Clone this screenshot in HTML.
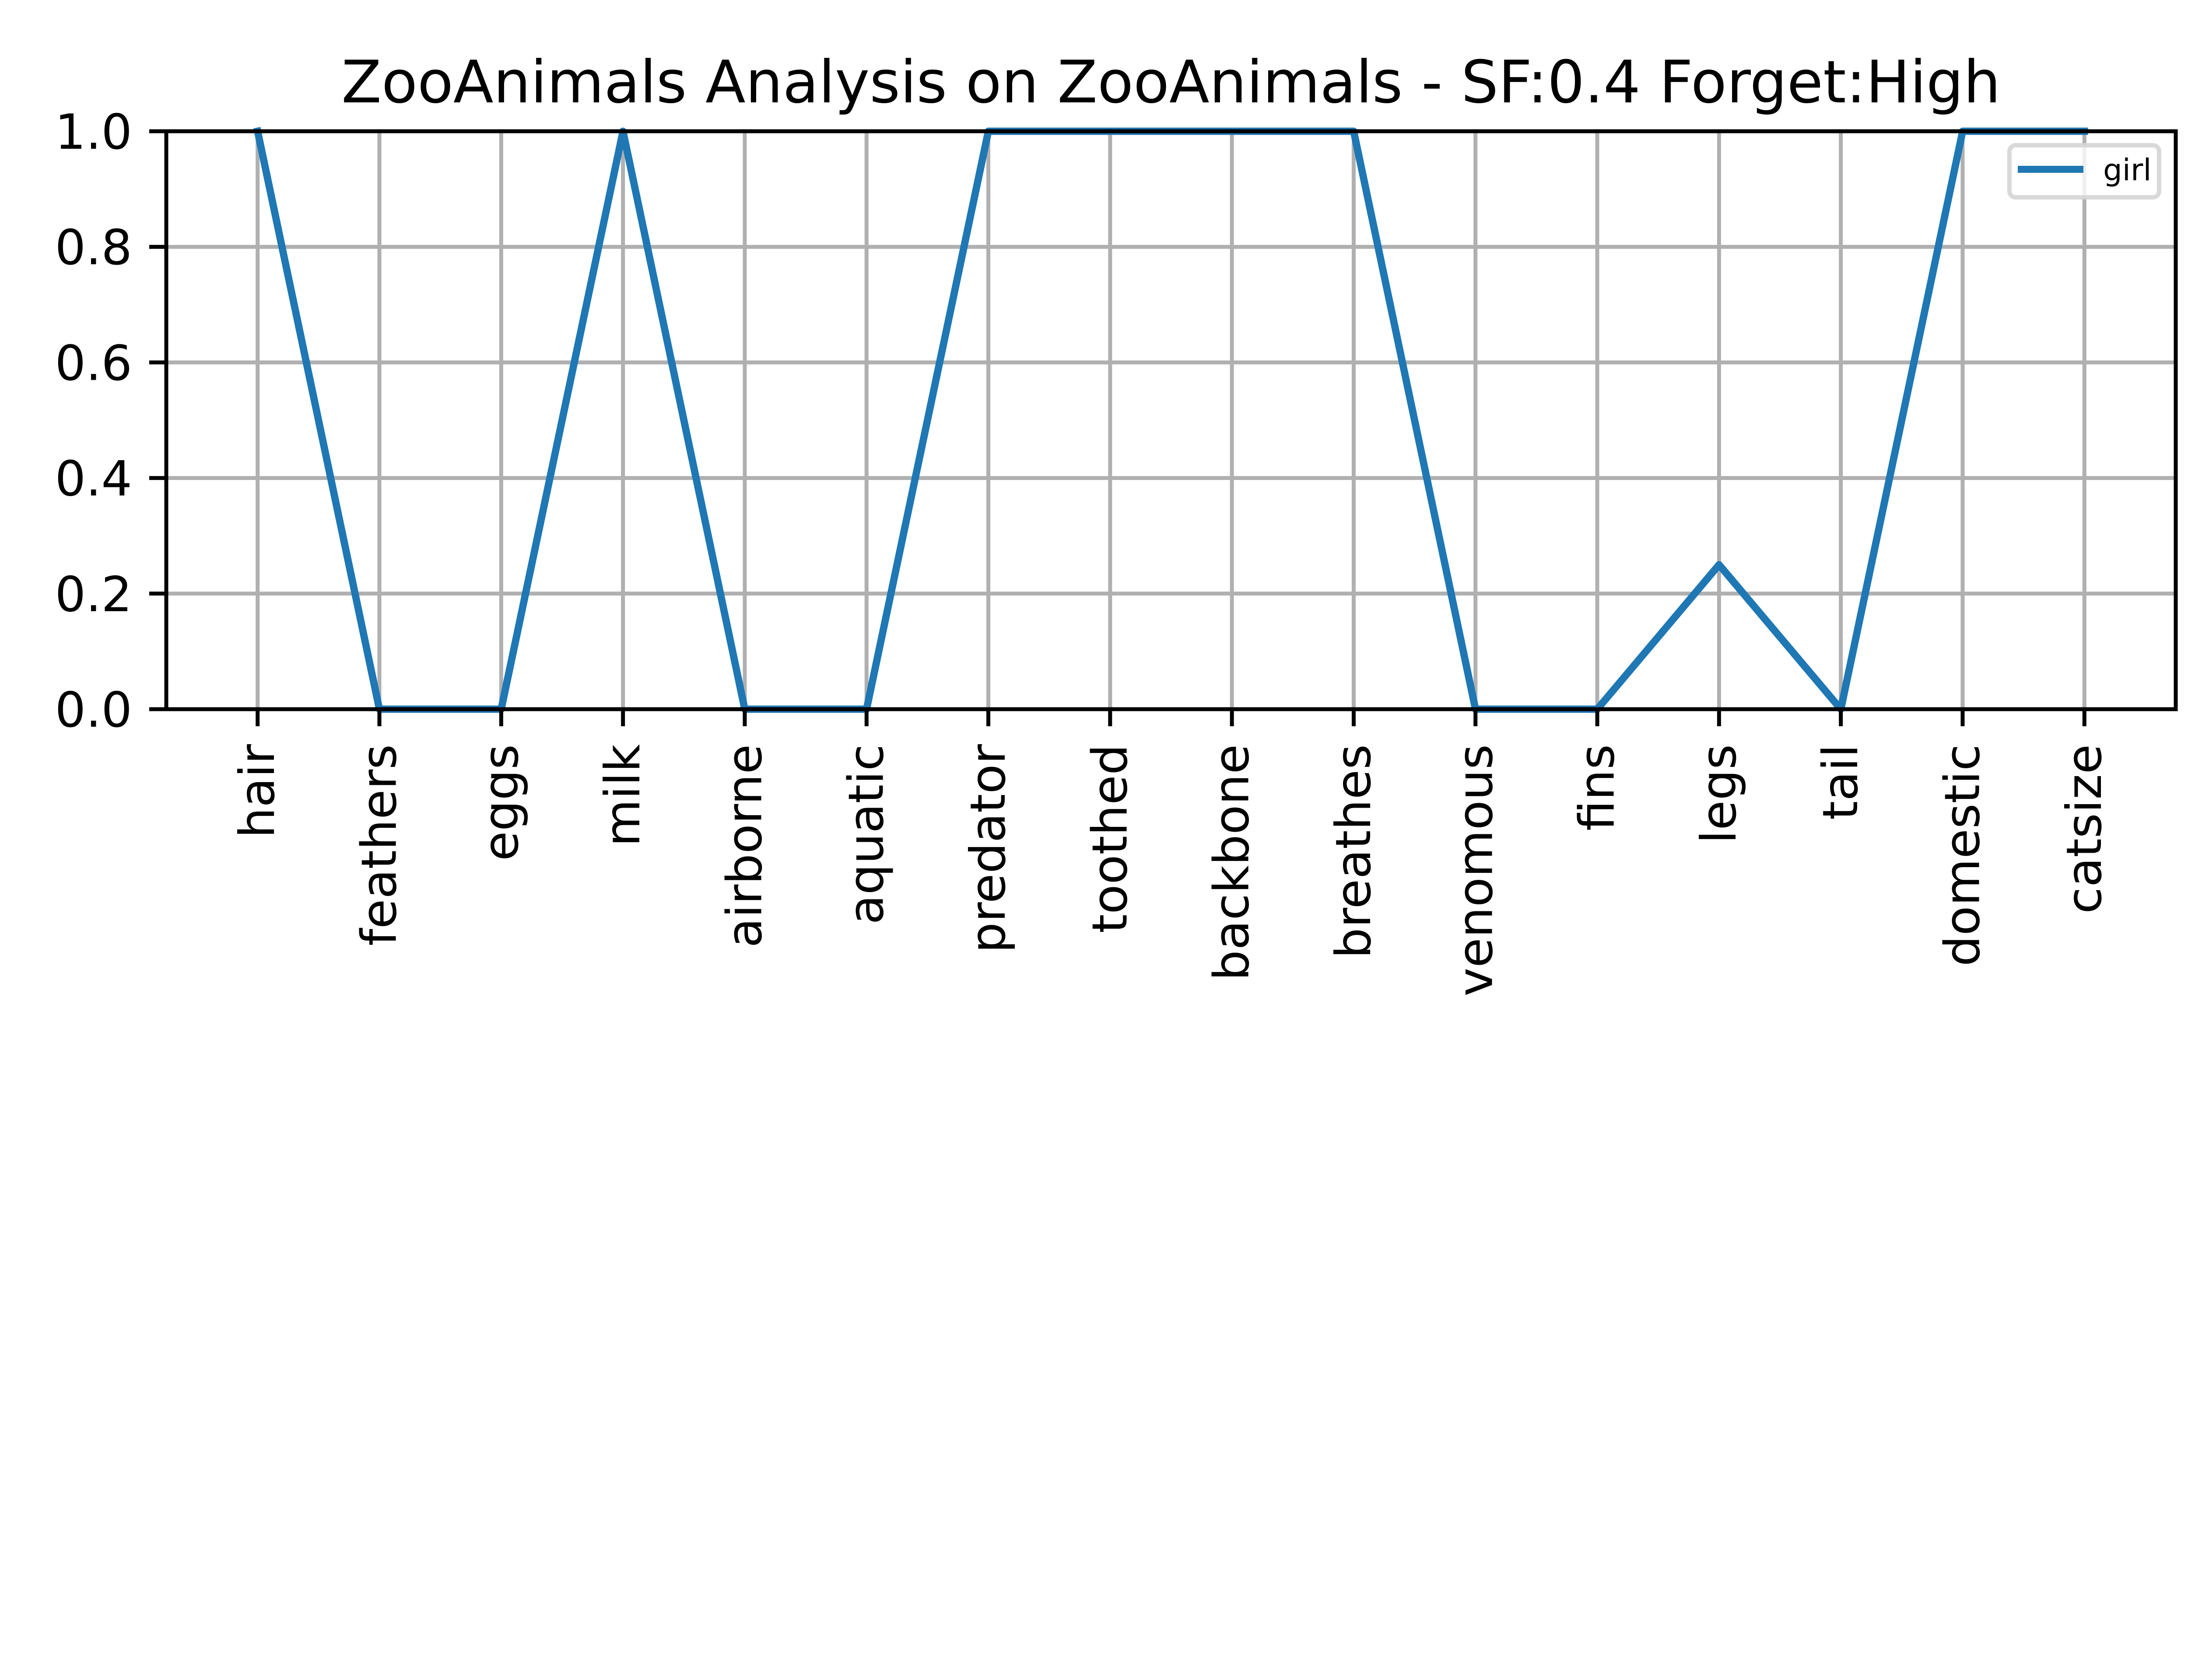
<!DOCTYPE html>
<html><head><meta charset="utf-8"><style>html,body{margin:0;padding:0;background:#fff}svg{display:block}</style></head>
<body>
<svg id="chart" width="5120" height="3840" viewBox="0 0 5120 3840" xmlns="http://www.w3.org/2000/svg" font-family="'DejaVu Sans','Liberation Sans',sans-serif">
<rect width="5120" height="3840" fill="#fff"/>
<text x="2676" y="234" font-size="134" text-anchor="middle">ZooAnimals Analysis on ZooAnimals - SF:0.4 Forget:High</text>
<g id="grid"></g>
<g id="series"></g>
<rect x="380" y="300" width="4592" height="1321" fill="none" stroke="#000" stroke-width="9"/>
<g id="ticks"></g>
<g>
<rect x="4592" y="332" width="342" height="119" rx="14" fill="#fff" fill-opacity="0.8" stroke="#d5d5d5" stroke-opacity="0.9" stroke-width="10"/>
<line x1="4611" y1="387" x2="4761" y2="387" stroke="#1f77b4" stroke-width="16"/>
<text x="4806" y="412" font-size="69">girl</text>
</g>
</svg>
<script>
const categories = ["hair","feathers","eggs","milk","airborne","aquatic","predator","toothed","backbone","breathes","venomous","fins","legs","tail","domestic","catsize"];
const girlValues = [1,0,0,1,0,0,1,1,1,1,0,0,0.25,0,1,1];
const yTicks = [0,0.2,0.4,0.6,0.8,1.0];
const yTickLabels = ["0.0","0.2","0.4","0.6","0.8","1.0"];

const L=380,R=4972,T=300,B=1621;
const NS="http://www.w3.org/2000/svg";
const n=categories.length;
function xScale(i){const lo=-0.75,hi=(n-1)+0.75;return L+(i-lo)/(hi-lo)*(R-L);}
function yScale(v){return B-(v-0)/(1-0)*(B-T);}
function mk(tag,attrs,parent){const e=document.createElementNS(NS,tag);for(const k in attrs)e.setAttribute(k,attrs[k]);parent.appendChild(e);return e;}
const grid=document.getElementById('grid'),ticks=document.getElementById('ticks'),series=document.getElementById('series');
categories.forEach((c,i)=>{
  const x=xScale(i);
  const g=mk('line',{x1:x,y1:T,x2:x,y2:B,stroke:'#b0b0b0','stroke-width':9},grid);
  
  
  const t=mk('line',{x1:x,y1:B,x2:x,y2:B+39,stroke:'#000','stroke-width':9},ticks);
  
  
  const tx=mk('text',{x:0,y:0,'font-size':111,'text-anchor':'end','dominant-baseline':'central',transform:`translate(${x},${B+80}) rotate(-90)`},ticks);
  tx.textContent=c;
  
  
});
yTicks.forEach((v,i)=>{
  const y=yScale(v);
  const g=mk('line',{x1:L,y1:y,x2:R,y2:y,stroke:'#b0b0b0','stroke-width':9},grid);
  
  
  const t=mk('line',{x1:L-39,y1:y,x2:L,y2:y,stroke:'#000','stroke-width':9},ticks);
  
  
  const tx=mk('text',{x:L-78,y:y+40,'font-size':111,'text-anchor':'end'},ticks);
  tx.textContent=yTickLabels[i];
  
  
});
const pts=girlValues.map((v,i)=>xScale(i)+','+yScale(v)).join(' ');
const pl=mk('polyline',{points:pts,fill:'none',stroke:'#1f77b4','stroke-width':16.7,'stroke-linejoin':'round','stroke-linecap':'square'},series);


</script>
</body></html>
